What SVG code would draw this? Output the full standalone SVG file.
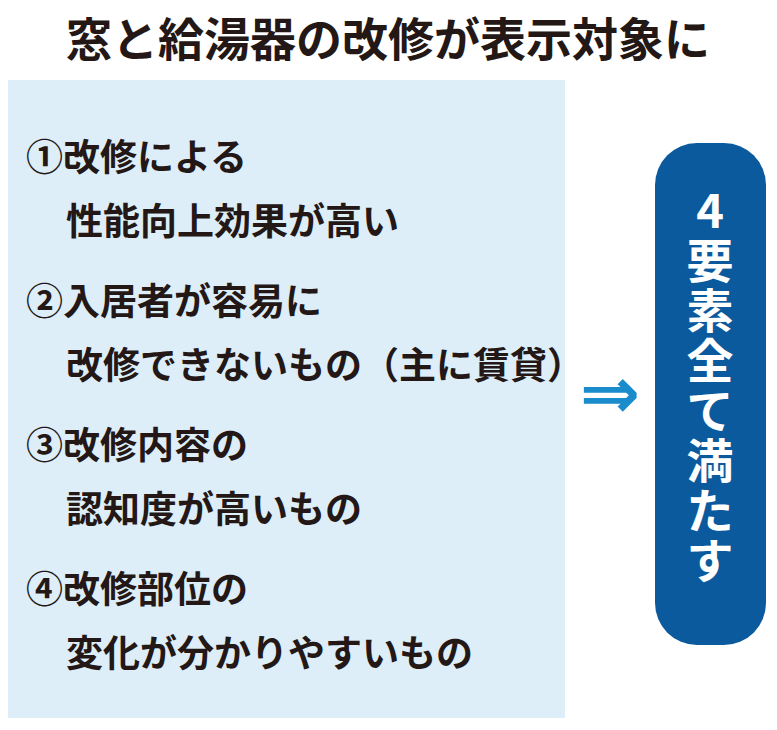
<svg xmlns="http://www.w3.org/2000/svg" width="777" height="730" viewBox="0 0 777 730">
<style>
.t{font-family:"Noto Sans CJK JP","Noto Sans",sans-serif;font-weight:bold;fill:#231815}
.i{font-size:37px}
.v{font-size:47px;fill:#fff;text-anchor:middle}
</style>
<rect width="777" height="730" fill="#fff"/>
<text class="t" x="388" y="56" font-size="46" text-anchor="middle">窓と給湯器の改修が表示対象に</text>
<g id="panel">
<rect x="8" y="80" width="557" height="638" fill="#ddeef9"/>
<text class="t i" x="26" y="171">①改修による</text>
<text class="t i" x="66" y="235">性能向上効果が高い</text>
<text class="t i" x="26" y="315">②入居者が容易に</text>
<text class="t i" x="66" y="379">改修できないもの（主に賃貸）</text>
<text class="t i" x="26" y="459">③改修内容の</text>
<text class="t i" x="66" y="523">認知度が高いもの</text>
<text class="t i" x="26" y="603">④改修部位の</text>
<text class="t i" x="66" y="667">変化が分かりやすいもの</text>
</g>
<g id="connectors">
<text x="610" y="418" font-size="72" font-weight="bold" text-anchor="middle" fill="#1a8ccc" font-family="DejaVu Sans,sans-serif">⇒</text>
</g>
<g id="result">
<rect x="655" y="143" width="111" height="502" rx="42" fill="#0b5a9e"/>
<text class="t v" x="710" y="228">4</text>
<text class="t v" x="710" y="278">要</text>
<text class="t v" x="710" y="328">素</text>
<text class="t v" x="710" y="378">全</text>
<text class="t v" x="710" y="428">て</text>
<text class="t v" x="710" y="478">満</text>
<text class="t v" x="710" y="528">た</text>
<text class="t v" x="710" y="578">す</text>
</g>
</svg>
